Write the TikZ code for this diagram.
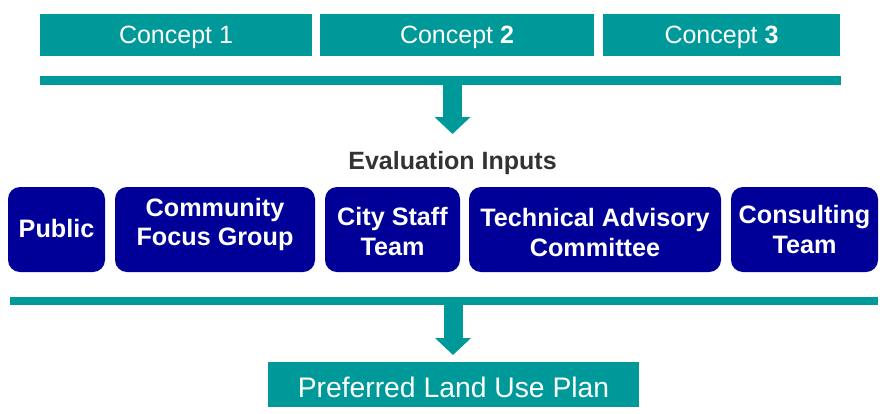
\documentclass[tikz,border=0pt]{standalone}
\usepackage{fontspec}
\setmainfont{Liberation Sans}
\usetikzlibrary{arrows.meta}
\definecolor{teal1}{HTML}{009999}
\definecolor{navy1}{HTML}{000099}
\definecolor{gray1}{HTML}{333333}
\begin{document}
\begin{tikzpicture}[x=1pt,y=-1pt,
  concept/.style={rectangle, fill=teal1, inner sep=0pt, minimum height=42pt},
  ctext/.style={text=white, inner sep=0pt, font=\fontsize{25}{30}\selectfont},
  bar/.style={rectangle, fill=teal1, inner sep=0pt, minimum height=9pt},
  ibox/.style={rectangle, rounded corners=12pt, fill=navy1, inner sep=0pt, minimum height=85pt},
  itext/.style={text=white, align=center, font=\fontsize{25.2}{29.5}\selectfont\bfseries, inner sep=0pt},
  bigarrow/.style={draw=teal1, line width=19pt, -{Triangle[width=35pt,length=17pt]}},
  plan/.style={rectangle, fill=teal1, inner sep=0pt, minimum height=45pt, minimum width=371pt},
  ptext/.style={text=white, inner sep=0pt, font=\fontsize{28.3}{33}\selectfont},
]
\useasboundingbox (0,0) rectangle (883,413);
% concepts
\node[concept, minimum width=272pt] (c1) at (176,35) {};
\node[ctext] (c1t) at ([yshift=-2.5pt]c1.center) {Concept 1};
\node[concept, minimum width=274pt] (c2) at (457,35) {};
\node[ctext] (c2t) at ([yshift=-2.5pt]c2.center) {Concept \textbf{2}};
\node[concept, minimum width=237pt] (c3) at (721.5,35) {};
\node[ctext] (c3t) at ([yshift=-2.5pt]c3.center) {Concept \textbf{3}};
\node[bar, minimum width=801pt] (bar1) at (440.5,80.5) {};
\coordinate (tip1) at (452.5,134);
\draw[bigarrow] (bar1.south -| tip1) -- (tip1);
% evaluation inputs
\node[text=gray1, font=\fontsize{25}{30}\selectfont\bfseries, inner sep=0pt] (eval) at (452.5,162.8) {Evaluation Inputs};
\node[ibox, minimum width=97pt] (pub) at (56.5,229.5) {};
\node[itext] (pubt) at ([yshift=1pt]pub.center) {Public};
\node[ibox, minimum width=200pt] (cfg) at (215,229.5) {};
\node[itext] (cfgt) at ([yshift=5.25pt]cfg.center) {Community\\Focus Group};
\node[ibox, minimum width=135pt] (city) at (392.5,229.5) {};
\node[itext] (cityt) at ([yshift=-2.2pt]city.center) {City Staff\\Team};
\node[ibox, minimum width=252pt] (tac) at (595,229.5) {};
\node[itext] (tact) at ([yshift=-3.2pt]tac.center) {Technical Advisory\\Committee};
\node[ibox, minimum width=147pt] (cons) at (804.5,229.5) {};
\node[itext] (const) at ([yshift=0pt]cons.center) {Consulting\\Team};
% bottom
\node[bar, minimum width=868pt, minimum height=8pt] (bar2) at (444,301) {};
\coordinate (tip2) at (453,355);
\draw[bigarrow] (bar2.south -| tip2) -- (tip2);
\node[plan] (plan) at (453.5,384.5) {};
\node[ptext] (plant) at ([yshift=-3pt]plan.center) {Preferred Land Use Plan};
\end{tikzpicture}
\end{document}
